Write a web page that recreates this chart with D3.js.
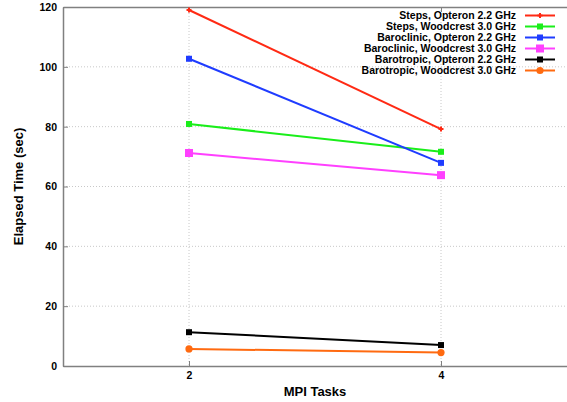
<!DOCTYPE html>
<html><head><meta charset="utf-8">
<script src="https://cdn.jsdelivr.net/npm/d3@7"></script>
<style>body{margin:0;background:#fff}svg{display:block;font-family:"Liberation Sans",Arial,sans-serif}</style>
</head><body>
<script>
const tasks = [2, 4];
const seriesNames = ["Steps, Opteron 2.2 GHz","Steps, Woodcrest 3.0 GHz","Baroclinic, Opteron 2.2 GHz","Baroclinic, Woodcrest 3.0 GHz","Barotropic, Opteron 2.2 GHz","Barotropic, Woodcrest 3.0 GHz"];
const stepsOpteron = [119.0, 79.2];
const stepsWoodcrest = [80.9, 71.6];
const baroclinicOpteron = [102.7, 67.9];
const baroclinicWoodcrest = [71.2, 63.8];
const barotropicOpteron = [11.3, 7.0];
const barotropicWoodcrest = [5.7, 4.5];
const yTicks = [0, 20, 40, 60, 80, 100, 120];
const xTicks = [2, 4];
const colors = ["#ff2a14","#1aee1a","#1f3cff","#ff40ff","#000000","#ff6a10"];
const markers = ["plus","cross","star","bigsquare","square","circle"];
const allValues = [stepsOpteron, stepsWoodcrest, baroclinicOpteron, baroclinicWoodcrest, barotropicOpteron, barotropicWoodcrest];

const W = 567, H = 402;
const m = {left: 63, right: 0, top: 7, bottom: 36};
const svg = d3.select("body").append("svg").attr("width", W).attr("height", H);
const x = d3.scaleLinear().domain([1, 5]).range([m.left, W - m.right]);
const y = d3.scaleLinear().domain([0, 120]).range([H - m.bottom, m.top]);

// grid
svg.append("g").selectAll("line").data(yTicks.slice(1, -1)).join("line")
  .attr("x1", m.left).attr("x2", W).attr("y1", d => y(d)).attr("y2", d => y(d))
  .attr("stroke", "#c8c8c8").attr("stroke-width", 1).attr("stroke-dasharray", "1,2");
svg.append("g").selectAll("line").data(xTicks).join("line")
  .attr("x1", d => x(d)).attr("x2", d => x(d)).attr("y1", m.top).attr("y2", H - m.bottom)
  .attr("stroke", "#c8c8c8").attr("stroke-width", 1).attr("stroke-dasharray", "1,2");

// axes
const yAxis = svg.append("g").attr("transform", `translate(${m.left},0)`)
  .call(d3.axisLeft(y).tickValues(yTicks).tickSizeInner(-5).tickSizeOuter(0).tickPadding(6));
const xAxis = svg.append("g").attr("transform", `translate(0,${H - m.bottom})`)
  .call(d3.axisBottom(x).tickValues(xTicks).tickFormat(d3.format("d")).tickSizeInner(-5).tickSizeOuter(0).tickPadding(6));
const xTop = svg.append("g").attr("transform", `translate(0,${m.top})`)
  .call(d3.axisTop(x).tickValues(xTicks).tickSizeInner(-5).tickSizeOuter(0).tickFormat(""));
[yAxis, xAxis, xTop].forEach(a => {
  a.select(".domain").attr("stroke", "#808080").attr("stroke-width", 1.5);
  a.selectAll(".tick line").attr("stroke", "#808080").attr("stroke-width", 1);
  a.selectAll("text").attr("font-size", 10.5).attr("font-weight", "bold").attr("fill", "#000")
    .attr("font-family", "Liberation Sans, Arial, sans-serif");
});

// axis titles
svg.append("text").attr("x", x(3)).attr("y", 396).attr("text-anchor", "middle")
  .attr("font-size", 13).attr("font-weight", "bold").text("MPI Tasks");
svg.append("text").attr("transform", `translate(23,${y(60)}) rotate(-90)`).attr("text-anchor", "middle")
  .attr("font-size", 13).attr("font-weight", "bold").text("Elapsed Time (sec)");

function drawMarker(g, type, cx, cy, c) {
  if (type === "plus") {
    g.append("path").attr("d", `M${cx-2.5},${cy}H${cx+2.5}M${cx},${cy-2.5}V${cy+2.5}`).attr("stroke", c).attr("stroke-width", 2);
  } else if (type === "cross") {
    g.append("rect").attr("x", cx-3).attr("y", cy-3).attr("width", 6).attr("height", 6).attr("fill", c);
  } else if (type === "star") {
    g.append("rect").attr("x", cx-3).attr("y", cy-3).attr("width", 6).attr("height", 6).attr("fill", c);
  } else if (type === "bigsquare") {
    g.append("rect").attr("x", cx-4).attr("y", cy-4).attr("width", 8).attr("height", 8).attr("fill", c);
  } else if (type === "square") {
    g.append("rect").attr("x", cx-3).attr("y", cy-3).attr("width", 6).attr("height", 6).attr("fill", c);
  } else {
    g.append("circle").attr("cx", cx).attr("cy", cy).attr("r", 3.6).attr("fill", c);
  }
}

const line = d3.line().x((d, i) => x(tasks[i])).y(d => y(d));
allValues.forEach((vals, k) => {
  const g = svg.append("g");
  g.append("path").datum(vals).attr("d", line).attr("fill", "none").attr("stroke", colors[k]).attr("stroke-width", 2);
  vals.forEach((v, i) => drawMarker(g, markers[k], x(tasks[i]), y(v), colors[k]));
});

// legend
const lg = svg.append("g");
seriesNames.forEach((name, k) => {
  const ly = 15.5 + k * 11;
  lg.append("text").attr("x", 516).attr("y", ly + 3.8).attr("text-anchor", "end")
    .attr("font-size", 10.5).attr("font-weight", "bold").text(name);
  lg.append("line").attr("x1", 525).attr("x2", 555).attr("y1", ly).attr("y2", ly)
    .attr("stroke", colors[k]).attr("stroke-width", 2);
  drawMarker(lg, markers[k], 540, ly, colors[k]);
});
</script>
</body></html>
